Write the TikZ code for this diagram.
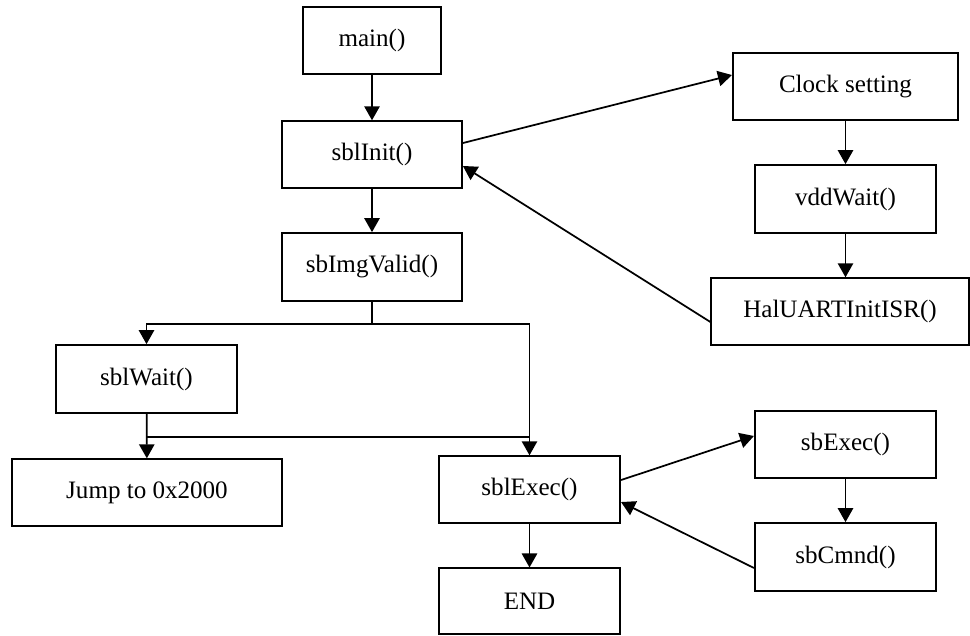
\documentclass[tikz,border=0pt]{standalone}
\usepackage{fontspec}
\setmainfont{Liberation Serif}
\usetikzlibrary{arrows.meta}

\begin{document}
\begin{tikzpicture}[x=0.75pt, y=-0.75pt, line width=1.3pt,
        every node/.style={draw, rectangle, inner sep=0pt, line width=1.3pt, font=\fontsize{18.8}{22}\selectfont},
        flow/.style={-{Triangle[length=10.5pt, width=11.5pt]}}]
    \useasboundingbox (0,0) rectangle (970,635);

    % Glowna galaz
    \node[minimum width=103pt, minimum height=50pt] (main) at (372, 40.5) {main()};
    \node[minimum width=135pt, minimum height=50pt] (init) at (372, 154.5) {sblInit()};
    \node[minimum width=135pt, minimum height=51pt] (valid) at (372, 267) {sbImgValid()};
    \node[minimum width=136pt, minimum height=51pt] (wait) at (146.5, 379) {sblWait()};
    \node[minimum width=202pt, minimum height=50pt] (jump) at (147, 492.5) {Jump to 0x2000};
    \node[minimum width=136pt, minimum height=50pt] (exec) at (529.5, 489.5) {sblExec()};
    \node[minimum width=136pt, minimum height=49pt] (end) at (529.5, 601) {END};

    % Inicjalizacja
    \node[minimum width=169pt, minimum height=50pt] (clock) at (845.5, 86.5) {Clock setting};
    \node[minimum width=136pt, minimum height=51pt] (vdd) at (845.5, 199) {vddWait()};
    \node[minimum width=193pt, minimum height=50pt] (uart) at (840, 311.5) {HalUARTInitISR()};

    % Wykonanie
    \node[minimum width=136pt, minimum height=50pt] (sbexec) at (845.5, 444.5) {sbExec()};
    \node[minimum width=136pt, minimum height=51pt] (cmnd) at (845.5, 557) {sbCmnd()};

    % Krawedzie glownej galezi
    \draw[flow] (main) -- (init);
    \draw[flow] (init) -- (valid);
    \draw (valid.south) -- ++(0,22) coordinate (split);
    \draw[flow] (split) -| (wait.north);
    \draw[flow] (split) -| (exec.north);
    \draw[flow] (wait) -- (jump);
    \path (wait.south) ++(0,23) coordinate (merge);
    \draw (merge) -- (merge -| exec.north);
    \draw[flow] (exec) -- (end);

    % Petla inicjalizacji
    \draw[flow] ([yshift=8.6pt]init.east) -- ([yshift=8.6pt]clock.west);
    \draw[flow] (clock.south -| vdd.north) -- (vdd.north);
    \draw[flow] (vdd.south) -- (vdd.south |- uart.north);
    \draw[flow] ([yshift=-7.9pt]uart.west) -- ([yshift=-8.6pt]init.east);

    % Petla wykonania
    \draw[flow] ([yshift=7.1pt]exec.east) -- ([yshift=6.4pt]sbexec.west);
    \draw[flow] (sbexec) -- (cmnd);
    \draw[flow] ([yshift=-8.25pt]cmnd.west) -- ([yshift=-9.4pt]exec.east);
\end{tikzpicture}
\end{document}
